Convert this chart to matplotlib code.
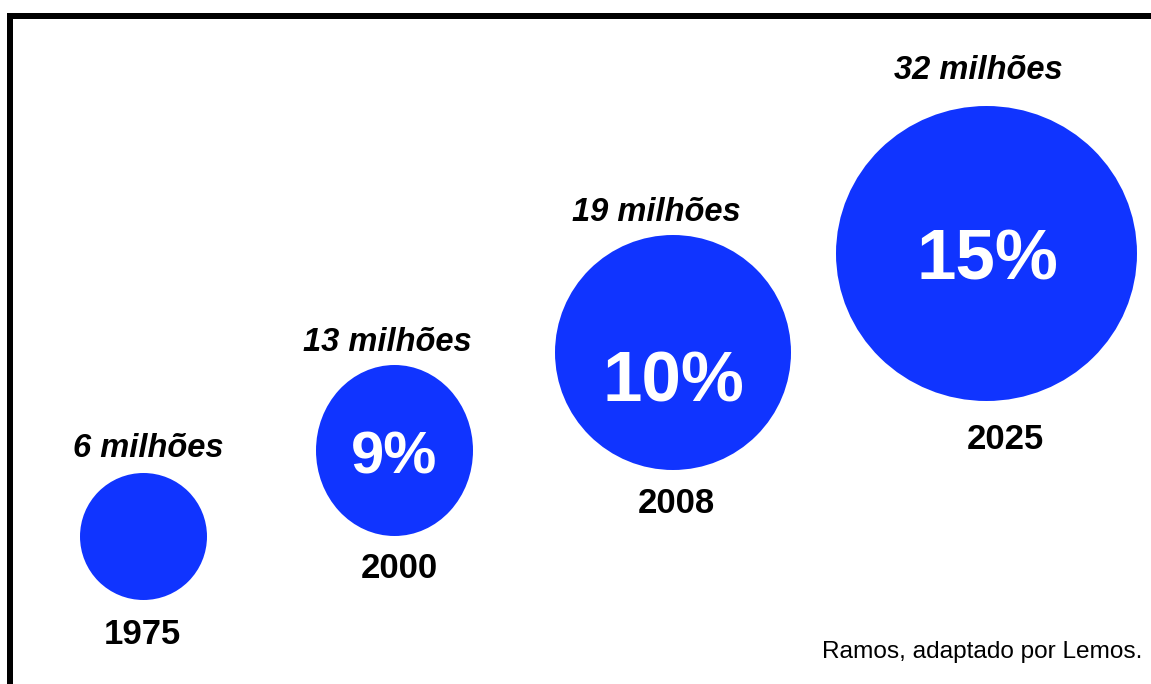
import matplotlib
matplotlib.use("Agg")
import matplotlib.pyplot as plt
from matplotlib.patches import Ellipse
from matplotlib.lines import Line2D

# data
years = [1975, 2000, 2008, 2025]
population = [6, 13, 19, 32]          # milhoes
percent = [None, 9, 10, 15]           # % of population
source = "Ramos, adaptado por Lemos."

# layout (pixels, y grows downwards)
cx = [143.5, 394.5, 673, 986.5]
cy = [536.5, 450.5, 352.5, 253.5]
cw = [127, 157, 236, 301]
ch = [127, 171, 235, 295]
pop_x = [148.5, 387.5, 656, 978.5]
pop_base = [457, 351, 221, 79]
year_x = [142, 399.5, 676, 1005.5]
year_base = [644, 578, 513, 449]
pct_x = [None, 394, 673.5, 987]
pct_base = [None, 473, 402, 279]
pct_size = [None, 43, 51, 51]

blue = '#1034FF'
W, H = 1151, 684

fig = plt.figure(figsize=(W / 100, H / 100), dpi=100)
ax = fig.add_axes([0, 0, 1, 1])
ax.set_xlim(0, W)
ax.set_ylim(H, 0)
ax.axis('off')

# frame: only top and left sides are visible
ax.add_line(Line2D([7, W], [16, 16], color='black', lw=6 * 0.72, solid_capstyle='butt'))
ax.add_line(Line2D([10, 10], [13, H], color='black', lw=6 * 0.72, solid_capstyle='butt'))

font = 'Liberation Sans'
for i in range(len(years)):
    ax.add_patch(Ellipse((cx[i], cy[i]), cw[i], ch[i], color=blue, lw=0))
    ax.text(pop_x[i], pop_base[i], "%d milhões" % population[i], ha='center', va='baseline',
            fontsize=23.5, fontweight='bold', fontstyle='italic', family=font)
    ax.text(year_x[i], year_base[i], str(years[i]), ha='center', va='baseline',
            fontsize=25, fontweight='bold', family=font)
    if percent[i] is not None:
        ax.text(pct_x[i], pct_base[i], "%d%%" % percent[i], ha='center', va='baseline',
                fontsize=pct_size[i], fontweight='bold', color='white', family=font)

ax.text(1142, 658, source, ha='right', va='baseline', fontsize=17.6, family=font)

fig.savefig("out.png", dpi=100)
